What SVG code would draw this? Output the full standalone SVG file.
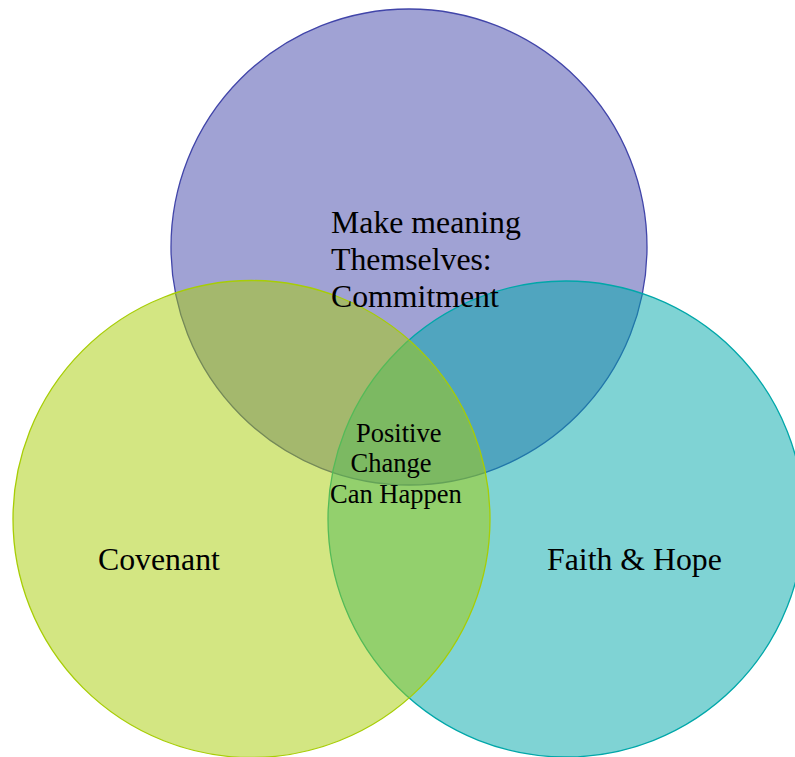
<svg xmlns="http://www.w3.org/2000/svg" width="795" height="757" viewBox="0 0 795 757">
  <style>
    .set { fill-opacity: 0.5; stroke-width: 1.3; }
    .label { font-family: "Liberation Serif", "Times New Roman", serif; fill: #000; }
    .big { font-size: 31.8px; }
    .small { font-size: 26.5px; }
  </style>
  <rect width="795" height="757" fill="#ffffff"/>
  <g id="commitment">
    <circle class="set" cx="409" cy="247" r="238" fill="#4145a9" stroke="#4145a9"/>
  </g>
  <g id="faith-hope">
    <circle class="set" cx="566" cy="519" r="238" fill="#00a7a9" stroke="#00a7a9"/>
  </g>
  <g id="covenant">
    <circle class="set" cx="251.5" cy="519" r="238.5" fill="#a7cd05" stroke="#a7cd05"/>
  </g>
  <g id="labels">
    <text class="label big" x="331" y="233">Make meaning</text>
    <text class="label big" x="331" y="270">Themselves:</text>
    <text class="label big" x="331" y="307">Commitment</text>
    <text class="label big" x="98" y="570">Covenant</text>
    <text class="label big" x="547" y="570">Faith &amp; Hope</text>
    <text class="label small" x="356" y="442">Positive</text>
    <text class="label small" x="350.5" y="472">Change</text>
    <text class="label small" x="330" y="502.5">Can Happen</text>
  </g>
</svg>
